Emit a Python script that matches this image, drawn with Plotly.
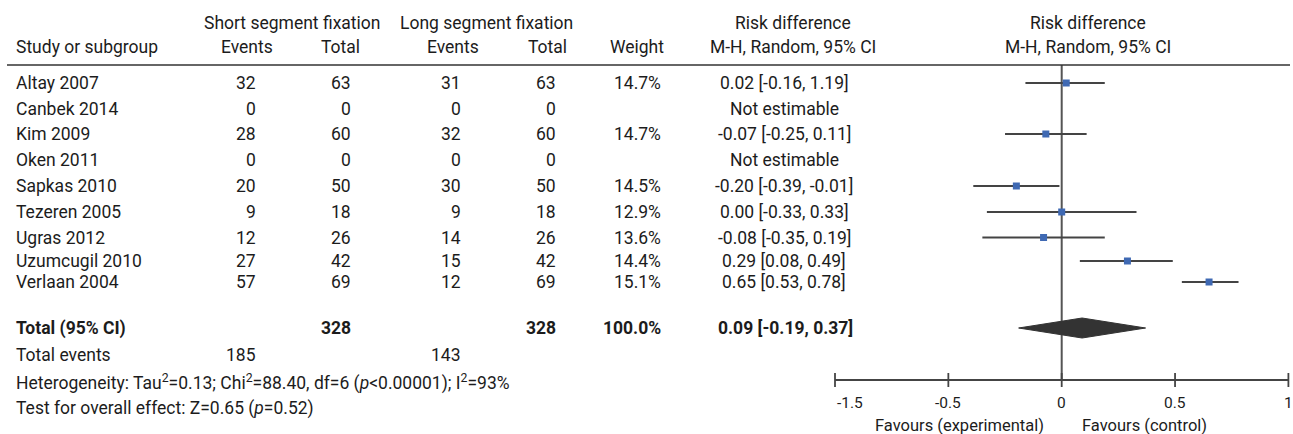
import plotly.graph_objects as go

W, H = 1293, 434

# ---------------- data ----------------
studies = ["Altay 2007", "Canbek 2014", "Kim 2009", "Oken 2011", "Sapkas 2010",
           "Tezeren 2005", "Ugras 2012", "Uzumcugil 2010", "Verlaan 2004"]
short_events = ["32", "0", "28", "0", "20", "9", "12", "27", "57"]
short_total = ["63", "0", "60", "0", "50", "18", "26", "42", "69"]
long_events = ["31", "0", "32", "0", "30", "9", "14", "15", "12"]
long_total = ["63", "0", "60", "0", "50", "18", "26", "42", "69"]
weights = ["14.7%", "", "14.7%", "", "14.5%", "12.9%", "13.6%", "14.4%", "15.1%"]
rd_text = ["0.02 [-0.16, 1.19]", "Not estimable", "-0.07 [-0.25, 0.11]", "Not estimable",
           "-0.20 [-0.39, -0.01]", "0.00 [-0.33, 0.33]", "-0.08 [-0.35, 0.19]",
           "0.29 [0.08, 0.49]", "0.65 [0.53, 0.78]"]
# plotted estimates (None = not estimable)
rd = [0.02, None, -0.07, None, -0.20, 0.00, -0.08, 0.29, 0.65]
rd_lo = [-0.16, None, -0.25, None, -0.39, -0.33, -0.35, 0.08, 0.53]
rd_hi = [0.19, None, 0.11, None, -0.01, 0.33, 0.19, 0.49, 0.78]

total_short, total_long, total_weight = "328", "328", "100.0%"
total_rd_text = "0.09 [-0.19, 0.37]"
total_rd, total_lo, total_hi = 0.09, -0.19, 0.37
total_events_short, total_events_long = "185", "143"
heterogeneity = "Heterogeneity: Tau<sup>2</sup>=0.13; Chi<sup>2</sup>=88.40, df=6 (<i>p</i>&lt;0.00001); I<sup>2</sup>=93%"
overall_test = "Test for overall effect: Z=0.65 (<i>p</i>=0.52)"

tick_vals = [-1, -0.5, 0, 0.5, 1]
tick_text = ["-1.5", "-0.5", "0", "0.5", "1"]

# ---------------- layout helpers ----------------
row_y = [83, 108.5, 134, 160, 186, 212, 237.5, 261, 282]
total_y = 328
FONT = "Roboto, 'Open Sans', sans-serif"
TXT = "#1c1c1c"
FS = 17.5

ZERO_PX, SCALE = 1061.7, 226.7
x_range = [-ZERO_PX / SCALE, (W - ZERO_PX) / SCALE]

fig = go.Figure()
ann = []


def text(px, y, s, anchor="center", size=FS, bold=False):
    if bold:
        s = "<b>" + s + "</b>"
    ann.append(dict(x=px / W, xref="paper", y=y, yref="y", text=s, showarrow=False,
                    xanchor=anchor, yanchor="middle",
                    font=dict(family=FONT, size=size, color=TXT)))


# headers
text(292, 23, "Short segment fixation")
text(486, 23, "Long segment fixation")
text(793, 23, "Risk difference")
text(1088, 23, "Risk difference")
text(14, 47, "Study or subgroup", "left")
text(247, 47, "Events")
text(340, 47, "Total")
text(453, 47, "Events")
text(547, 47, "Total")
text(637, 47, "Weight")
text(793, 47, "M-H, Random, 95% CI")
text(1088, 47, "M-H, Random, 95% CI")

# study rows
for i, s in enumerate(studies):
    y = row_y[i]
    text(14, y, s, "left")
    text(258, y, short_events[i], "right")
    text(353, y, short_total[i], "right")
    text(463, y, long_events[i], "right")
    text(558, y, long_total[i], "right")
    if weights[i]:
        text(663, y, weights[i], "right")
    text(784, y, rd_text[i])

# totals
text(14, total_y, "Total (95% CI)", "left", bold=True)
text(353, total_y, total_short, "right", bold=True)
text(558, total_y, total_long, "right", bold=True)
text(663, total_y, total_weight, "right", bold=True)
text(786, total_y, total_rd_text, bold=True)
text(14, 355, "Total events", "left")
text(258, 355, total_events_short, "right")
text(463, 355, total_events_long, "right")
text(14, 382, heterogeneity, "left")
text(14, 408, overall_test, "left")

# axis tick labels
for v, t in zip(tick_vals, tick_text):
    anchor = "left" if v == tick_vals[0] else "center"
    ann.append(dict(x=v, xref="x", y=403, yref="y", text=t, showarrow=False,
                    xanchor=anchor, yanchor="middle",
                    font=dict(family=FONT, size=15.5, color=TXT)))
ann.append(dict(x=-0.07, xref="x", y=425, yref="y", text="Favours (experimental)", showarrow=False,
                xanchor="right", yanchor="middle", font=dict(family=FONT, size=16.5, color=TXT)))
ann.append(dict(x=0.08, xref="x", y=425, yref="y", text="Favours (control)", showarrow=False,
                xanchor="left", yanchor="middle", font=dict(family=FONT, size=16.5, color=TXT)))

# CI lines
cx, cy = [], []
for i in range(len(studies)):
    if rd[i] is None:
        continue
    cx += [rd_lo[i], rd_hi[i], None]
    cy += [row_y[i], row_y[i], None]
fig.add_trace(go.Scatter(x=cx, y=cy, mode="lines", line=dict(color="#444444", width=2.2),
                         hoverinfo="skip"))
# squares
px_ = [rd[i] for i in range(len(studies)) if rd[i] is not None]
py_ = [row_y[i] for i in range(len(studies)) if rd[i] is not None]
fig.add_trace(go.Scatter(x=px_, y=py_, mode="markers",
                         marker=dict(symbol="square", size=7, color="#3F69B3",
                                     line=dict(width=0))))
# diamond
fig.add_trace(go.Scatter(x=[total_lo, total_rd, total_hi, total_rd, total_lo],
                         y=[total_y, total_y - 10, total_y, total_y + 10, total_y],
                         mode="lines", fill="toself", fillcolor="#333333",
                         line=dict(color="#333333", width=1)))

shapes = []
# header rule
shapes.append(dict(type="line", xref="paper", yref="y", x0=7 / W, x1=1290 / W, y0=65, y1=65,
                   line=dict(color="#333333", width=1.6)))
# zero line
shapes.append(dict(type="line", xref="x", yref="y", x0=0, x1=0, y0=65, y1=380,
                   line=dict(color="#555555", width=2), layer="below"))
# bottom axis
shapes.append(dict(type="line", xref="x", yref="y", x0=tick_vals[0], x1=tick_vals[-1], y0=380, y1=380,
                   line=dict(color="#444444", width=1.8)))
for v in tick_vals:
    shapes.append(dict(type="line", xref="x", yref="y", x0=v, x1=v, y0=373, y1=387,
                       line=dict(color="#444444", width=1.8)))

fig.update_layout(
    width=W, height=H, autosize=False,
    margin=dict(l=0, r=0, t=0, b=0, pad=0),
    paper_bgcolor="white", plot_bgcolor="white",
    showlegend=False,
    xaxis=dict(range=x_range, visible=False, fixedrange=True),
    yaxis=dict(range=[H, 0], visible=False, fixedrange=True),
    annotations=ann, shapes=shapes,
)

fig.write_html("out.html", config={"displayModeBar": False},
               post_script="document.body.style.margin='0';document.body.style.padding='0';")
